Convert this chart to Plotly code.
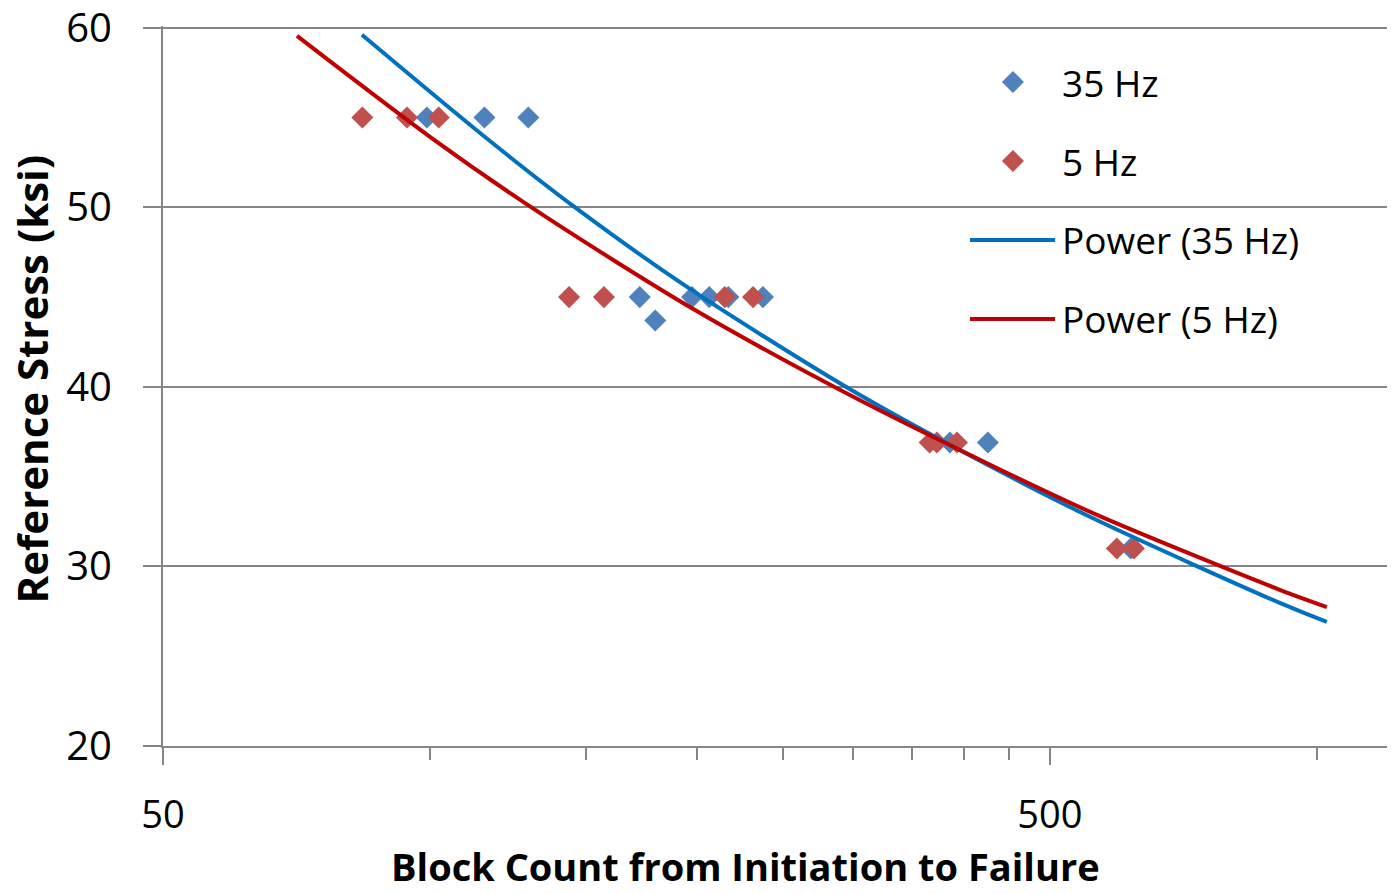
import numpy as np
import plotly.graph_objects as go

# ---- data ----
hz35_blocks = [99.2, 115.2, 129.1, 172.4, 179.5, 197.5, 206.5, 217.0, 237.4, 385.8, 425.7, 617.0]
hz35_stress = [55.0, 55.0, 55.0, 45.0, 43.7, 45.0, 45.0, 45.0, 45.0, 36.9, 36.9, 31.0]

hz5_blocks = [83.9, 94.2, 102.3, 143.5, 157.1, 215.0, 231.4, 366.0, 372.9, 392.9, 595.0, 622.0]
hz5_stress = [55.0, 55.0, 55.0, 45.0, 45.0, 45.0, 45.0, 36.9, 36.9, 36.9, 31.0, 31.0]

# Excel power trendlines
trend35_blocks = [83.8, 114.8, 145.0, 194.9, 296.0, 439.2, 569.3, 908.3, 1026.4]
trend35_stress = [59.61, 54.0, 50.08, 45.57, 39.94, 35.3, 32.5, 27.97, 26.91]

trend5_blocks = [70.8, 100.0, 133.0, 197.9, 296.0, 439.2, 569.3, 908.3, 1026.4]
trend5_stress = [59.55, 53.93, 49.69, 44.35, 39.6, 35.4, 32.8, 28.7, 27.74]

x_major_ticks = [50, 500]
x_major_labels = ["50", "500"]
x_minor_ticks = [100, 150, 200, 250, 300, 350, 400, 450, 1000]
y_ticks = [20, 30, 40, 50, 60]

series_names = ["35 Hz", "5 Hz", "Power (35 Hz)", "Power (5 Hz)"]

# ---- styles ----
BLUE_M = "#4F81BD"
RED_M = "#C0504D"
BLUE_L = "#0070C0"
RED_L = "#C00000"
GRID = "#868686"
FONT = "Open Sans"

fig = go.Figure()
fig.add_trace(go.Scatter(x=hz35_blocks, y=hz35_stress, mode="markers", name=series_names[0],
                         marker=dict(symbol="diamond", size=17, color=BLUE_M, line=dict(width=0))))
fig.add_trace(go.Scatter(x=hz5_blocks, y=hz5_stress, mode="markers", name=series_names[1],
                         marker=dict(symbol="diamond", size=17, color=RED_M, line=dict(width=0))))
fig.add_trace(go.Scatter(x=trend35_blocks, y=trend35_stress, mode="lines", name=series_names[2],
                         line=dict(color=BLUE_L, width=4, shape="spline", smoothing=0.8)))
fig.add_trace(go.Scatter(x=trend5_blocks, y=trend5_stress, mode="lines", name=series_names[3],
                         line=dict(color=RED_L, width=4, shape="spline", smoothing=0.8)))

# ---- manual legend (Excel style: long line keys) ----
leg_rows = [0.9222, 0.8125, 0.7028, 0.5931]
leg_key_x = 0.6944
leg_line_x = [0.6593, 0.7288]
leg_text_x = 0.7328
leg_colors = [BLUE_M, RED_M, BLUE_L, RED_L]
shapes = []
annotations = []
for i, nm in enumerate(series_names):
    yy = leg_rows[i]
    if i < 2:
        shapes.append(dict(type="path", xref="paper", yref="paper",
                           xsizemode="pixel", ysizemode="pixel",
                           xanchor=leg_key_x, yanchor=yy,
                           path="M0,11 L11,0 L0,-11 L-11,0 Z",
                           fillcolor=leg_colors[i], line=dict(width=0)))
    else:
        shapes.append(dict(type="line", xref="paper", yref="paper",
                           x0=leg_line_x[0], x1=leg_line_x[1], y0=yy, y1=yy,
                           line=dict(color=leg_colors[i], width=4)))
    annotations.append(dict(text=nm, xref="paper", yref="paper", x=leg_text_x, y=yy,
                            xanchor="left", yanchor="middle", showarrow=False,
                            font=dict(family=FONT, size=37, color="#000000")))

# axis titles
annotations.append(dict(text="<b>Block Count from Initiation to Failure</b>", xref="paper", yref="paper",
                        x=0.476, y=-0.1667, xanchor="center", yanchor="middle", showarrow=False,
                        font=dict(family=FONT, size=38, color="#000000")))
annotations.append(dict(text="<b>Reference Stress (ksi)</b>", xref="paper", yref="paper",
                        x=-0.1075, y=0.5097, xanchor="center", yanchor="middle", showarrow=False,
                        textangle=-90, font=dict(family=FONT, size=42, color="#000000")))

fig.update_layout(
    width=1394, height=894,
    margin=dict(l=163, r=7, t=26, b=148, pad=0, autoexpand=False),
    paper_bgcolor="white", plot_bgcolor="white",
    showlegend=False,
    font=dict(family=FONT, color="#000000"),
    shapes=shapes, annotations=annotations,
)

fig.update_xaxes(
    type="log", range=[np.log10(50), np.log10(1200)], automargin=False,
    tickmode="array", tickvals=x_major_ticks, ticktext=x_major_labels,
    ticks="outside", ticklen=17, tickwidth=2, tickcolor=GRID,
    ticklabelstandoff=17,
    tickfont=dict(family=FONT, size=38, color="#000000"),
    showline=True, linecolor=GRID, linewidth=2,
    showgrid=False, zeroline=False,
    minor=dict(tickmode="array", tickvals=x_minor_ticks, ticks="outside", ticklen=12,
               tickwidth=2, tickcolor=GRID, showgrid=False),
)
fig.update_yaxes(
    range=[20, 60.1], tickmode="array", tickvals=y_ticks, automargin=False,
    ticks="outside", ticklen=18, tickwidth=2, tickcolor=GRID,
    ticklabelstandoff=23, ticklabeloverflow="allow",
    tickfont=dict(family=FONT, size=40, color="#000000"),
    showline=True, linecolor=GRID, linewidth=2,
    showgrid=True, gridcolor=GRID, gridwidth=2, zeroline=False,
)

fig.write_html("out.html")
